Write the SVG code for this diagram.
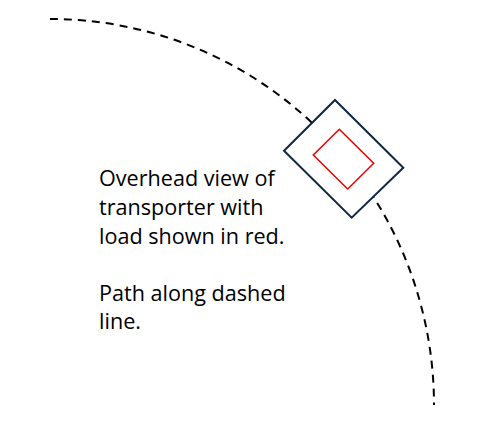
<svg xmlns="http://www.w3.org/2000/svg" width="478" height="441" viewBox="0 0 478 441">
<style>
.lbl{font-family:"Open Sans","Liberation Sans",sans-serif;font-size:21.6px;fill:#000}
.path{fill:none;stroke:#000;stroke-width:2;stroke-dasharray:8 6}
</style>
<rect width="478" height="441" fill="#fff"/>
<g id="connectors">
<path class="path" d="M50,19 A384,386 0 0 1 434,405"/>
</g>
<g id="transporter">
<polygon points="335,100 403.3,167.7 351.7,217.7 284,150.7" fill="#fff" stroke="#0e2841" stroke-width="2"/>
</g>
<g id="load">
<polygon points="339.3,129.3 373.7,163.3 347.7,189 313.3,155" fill="none" stroke="#ee0000" stroke-width="1.5"/>
</g>
<g id="caption">
<text class="lbl" x="99" y="186">Overhead view of</text>
<text class="lbl" x="99" y="215">transporter with</text>
<text class="lbl" x="99" y="243.5">load shown in red.</text>
<text class="lbl" x="99" y="300.5">Path along dashed</text>
<text class="lbl" x="99" y="329">line.</text>
</g>
</svg>
